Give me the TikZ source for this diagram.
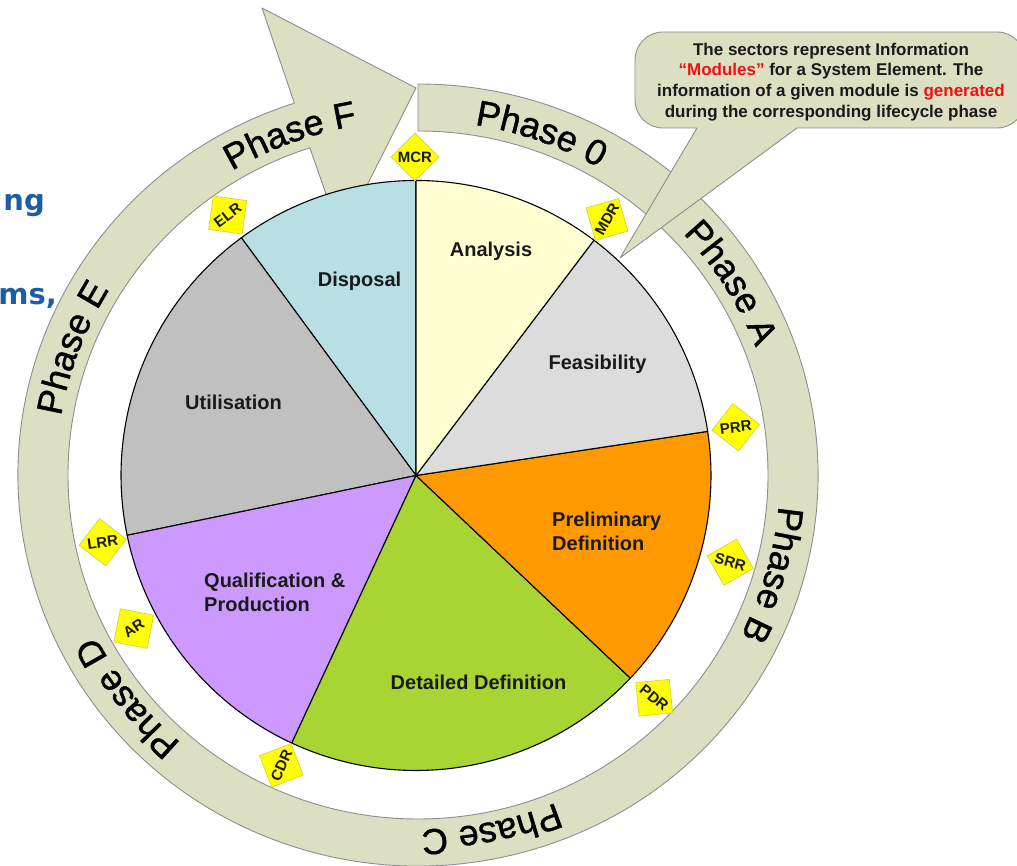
\documentclass[tikz,border=0pt]{standalone}
\usepackage{fontspec}
\setmainfont{Liberation Sans}
\newfontfamily\bluefont{DejaVu Sans}
\newfontfamily\phasefont{Liberation Sans}[FakeBold=1.2]
\usetikzlibrary{shapes.geometric,decorations.text,calc}

\definecolor{ringfill}{HTML}{DCDFC2}
\definecolor{ringline}{HTML}{8E8E8E}
\definecolor{cAnal}{HTML}{FFFFD1}
\definecolor{cFeas}{HTML}{DCDCDC}
\definecolor{cPrel}{HTML}{FF9900}
\definecolor{cDet}{HTML}{A9D534}
\definecolor{cQual}{HTML}{CC99FF}
\definecolor{cUtil}{HTML}{C0C0C0}
\definecolor{cDisp}{HTML}{B8DFE3}
\definecolor{msyellow}{HTML}{FFFF00}
\definecolor{msline}{HTML}{CFCF40}
\definecolor{txtblue}{HTML}{1C5CA8}
\definecolor{calloutred}{HTML}{EE1111}
\definecolor{darktext}{HTML}{1A1A1A}

\begin{document}
\begin{tikzpicture}[x=1pt,y=1pt,
  ringstyle/.style={fill=ringfill,draw=ringline,line width=0.9pt,line join=round},
  sector/.style={draw=black,line width=1.1pt,line join=round},
  seclabel/.style={font=\bfseries\fontsize{20}{24}\selectfont,text=darktext,inner sep=0pt,align=left},
  mstone/.style={shape=diamond,aspect=1,fill=msyellow,draw=msline,line width=0.6pt,
    minimum width=48pt,minimum height=48pt,inner sep=0pt,
    font=\bfseries\fontsize{15}{15}\selectfont,text=darktext},
  bluetext/.style={font=\bluefont\bfseries\fontsize{29}{29}\selectfont,text=txtblue,inner sep=0pt,anchor=base east},
  phasetext/.style={decorate,decoration={text along path,text align=center,
    text={|\phasefont\fontsize{36}{36}\selectfont|#1}}}
]
\useasboundingbox (0,0) rectangle (1017,866);
\coordinate (Rc) at (418,391);
\coordinate (Pc) at (416,390.5);
\coordinate (tip) at (416,778);
\coordinate (backup) at (262,858);
\coordinate (backlow) at (341,629);

% left cut-off text
\node[bluetext] (ng) at (45,655) {ng};
\node[bluetext] (ms) at (57,561) {ms,};

% ring with arrow head
\draw[ringstyle] (tip) -- (backup) -- ($(Rc)+(108:400 and 391)$)
  arc[start angle=108,end angle=450,x radius=400,y radius=391]
  -- ($(Rc)+(90:350 and 344)$)
  arc[start angle=450,end angle=108,x radius=350,y radius=344]
  -- (backlow) -- cycle;

% phase labels
\path[phasetext={Phase 0}] ($(Rc)+(86.5:362 and 354.5)$) arc[start angle=86.5,end angle=54.5,x radius=362,y radius=354.5];
\path[phasetext={Phase A}] ($(Rc)+(48:362 and 354.5)$) arc[start angle=48,end angle=16,x radius=362,y radius=354.5];
\path[phasetext={Phase B}] ($(Rc)+(0:362 and 354.5)$) arc[start angle=0,end angle=-32,x radius=362,y radius=354.5];
\path[phasetext={Phase C}] ($(Rc)+(-62.5:362 and 354.5)$) arc[start angle=-62.5,end angle=-94.5,x radius=362,y radius=354.5];
\path[phasetext={Phase D}] ($(Rc)+(-126:362 and 354.5)$) arc[start angle=-126,end angle=-158,x radius=362,y radius=354.5];
\path[phasetext={Phase E}] ($(Rc)+(175.5:362 and 354.5)$) arc[start angle=175.5,end angle=143.5,x radius=362,y radius=354.5];
\path[phasetext={Phase F}] ($(Rc)+(126.3:362 and 354.5)$) arc[start angle=126.3,end angle=94.3,x radius=362,y radius=354.5];

% pie
\foreach \a/\b/\c in {90/126.3/cDisp,126.3/191.7/cUtil,191.7/245.1/cQual,245.1/316.6/cDet,-43.4/8.6/cPrel,8.6/52.9/cFeas,52.9/90/cAnal}
  \filldraw[sector,fill=\c] (Pc) -- ($(Pc)+(\a:295)$) arc[start angle=\a,end angle=\b,radius=295] -- cycle;

% sector labels
\node[seclabel] (an) at (491,615) {Analysis};
\node[seclabel] (di) at (359.5,585) {Disposal};
\node[seclabel] (fe) at (597.5,502) {Feasibility};
\node[seclabel,anchor=west] (pr) at (552,334.5) {Preliminary\\Definition};
\node[seclabel] (dd) at (478.5,184) {Detailed Definition};
\node[seclabel,anchor=west] (qp) at (204,273.5) {Qualification \&\\Production};
\node[seclabel] (ut) at (233.5,464) {Utilisation};

% callout
\draw[ringstyle] (620,608) -- (797,738) -- (997,738)
  arc[start angle=270,end angle=360,radius=28] -- (1025,806)
  arc[start angle=0,end angle=90,radius=28] -- (663,834)
  arc[start angle=90,end angle=180,radius=28] -- (635,766)
  arc[start angle=180,end angle=270,radius=28] -- (697,738) -- cycle;
\node[font=\bfseries\fontsize{17}{20.7}\selectfont,align=center,text=darktext,inner sep=0pt] (note) at (831,784)
  {The sectors represent Information\\
   \textcolor{calloutred}{“Modules”} for a System Element. The\\
   information of a given module is \textcolor{calloutred}{generated}\\
   during the corresponding lifecycle phase};

% milestones
\node[mstone,rotate=0] (mcr) at (415,709) {MCR};
\node[mstone,rotate=61] (mdr) at (607,646.5) {MDR};
\node[mstone,rotate=7] (prr) at (735.7,438.7) {PRR};
\node[mstone,rotate=-15.5] (srr) at (730.3,303.8) {SRR};
\node[mstone,rotate=-39.4] (pdr) at (654.2,168.2) {PDR};
\node[mstone,rotate=66] (cdr) at (281.4,100.6) {CDR};
\node[mstone,rotate=34] (ar) at (133.8,237.4) {AR};
\node[mstone,rotate=7.5] (lrr) at (102.7,323.7) {LRR};
\node[mstone,rotate=37] (elr) at (227.7,651) {ELR};
\end{tikzpicture}
\end{document}
